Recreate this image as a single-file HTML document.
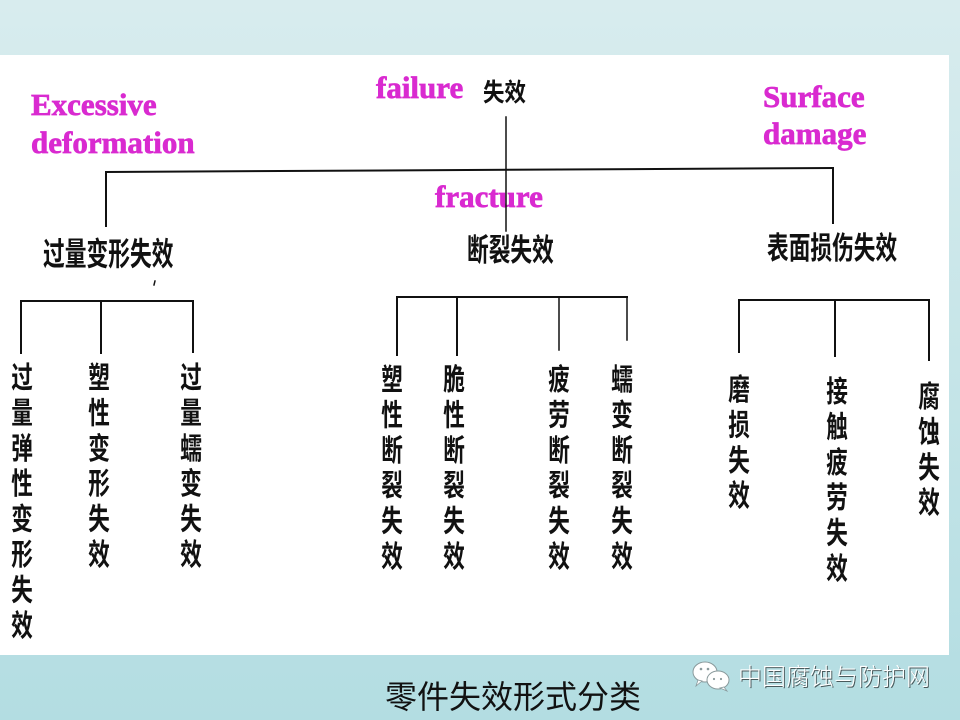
<!DOCTYPE html>
<html><head><meta charset="utf-8">
<style>
html,body{margin:0;padding:0;width:960px;height:720px;overflow:hidden;}
svg{display:block;}
.en{font-family:"Liberation Serif",serif;font-weight:bold;font-size:31px;fill:#d92ad0;stroke:#d92ad0;stroke-width:0.7px;}
.cj{font-family:"Liberation Sans","Noto Sans CJK SC",sans-serif;font-weight:700;fill:#111;}
</style></head>
<body>
<svg width="960" height="720" viewBox="0 0 960 720" xmlns="http://www.w3.org/2000/svg">
<defs>
<linearGradient id="bg" x1="0" y1="0" x2="0" y2="1">
<stop offset="0" stop-color="#d8ecee"/>
<stop offset="0.5" stop-color="#c6e5e8"/>
<stop offset="1" stop-color="#b3dde2"/>
</linearGradient>
</defs>
<rect x="0" y="0" width="960" height="720" fill="url(#bg)"/>
<rect x="0" y="55" width="949" height="600" fill="#ffffff"/>

<!-- English labels -->
<text class="en" x="31" y="115">Excessive</text>
<text class="en" x="31" y="153">deformation</text>
<text class="en" x="376" y="98">failure</text>
<text class="en" x="435" y="207">fracture</text>
<text class="en" x="763" y="107">Surface</text>
<text class="en" x="763" y="144">damage</text>

<!-- lines -->
<g stroke="#111" stroke-width="2" fill="none" stroke-linecap="square">
<line x1="506" y1="117" x2="506" y2="231" stroke-width="1.5"/>
<line x1="106" y1="172" x2="833" y2="168"/>
<line x1="106" y1="172" x2="106" y2="226"/>
<line x1="833" y1="168" x2="833" y2="223"/>

<line x1="21" y1="301" x2="193" y2="301"/>
<line x1="21" y1="301" x2="21" y2="353"/>
<line x1="101" y1="301" x2="101" y2="353"/>
<line x1="193" y1="301" x2="193" y2="352"/>

<line x1="397" y1="297" x2="627" y2="297"/>
<line x1="397" y1="297" x2="397" y2="355"/>
<line x1="457" y1="297" x2="457" y2="355"/>
<line x1="559" y1="297" x2="559" y2="350" stroke-width="1.5"/>
<line x1="627" y1="297" x2="627" y2="340" stroke-width="1.5"/>

<line x1="739" y1="300" x2="929" y2="300"/>
<line x1="739" y1="300" x2="739" y2="352"/>
<line x1="835" y1="300" x2="835" y2="356"/>
<line x1="929" y1="300" x2="929" y2="360"/>
<line x1="155" y1="281" x2="154" y2="285" stroke-width="1.5"/>
</g>

<!-- top label -->
<text class="cj" font-size="25" transform="translate(483,101) scale(0.86,1)">失效</text>

<!-- level 2 labels -->
<text class="cj" font-size="32" transform="translate(43,265) scale(0.68,1)">过量变形失效</text>
<text class="cj" font-size="31" transform="translate(467,261) scale(0.7,1)">断裂失效</text>
<text class="cj" font-size="31" transform="translate(767,259) scale(0.7,1)">表面损伤失效</text>

<!-- vertical columns -->
<g class="cj" font-size="30" text-anchor="middle">
<text transform="translate(22,388) scale(0.72,1)"><tspan x="0" dy="0">过</tspan><tspan x="0" dy="35.4">量</tspan><tspan x="0" dy="35.4">弹</tspan><tspan x="0" dy="35.4">性</tspan><tspan x="0" dy="35.4">变</tspan><tspan x="0" dy="35.4">形</tspan><tspan x="0" dy="35.4">失</tspan><tspan x="0" dy="35.4">效</tspan></text>
<text transform="translate(99,388) scale(0.72,1)"><tspan x="0" dy="0">塑</tspan><tspan x="0" dy="35.4">性</tspan><tspan x="0" dy="35.4">变</tspan><tspan x="0" dy="35.4">形</tspan><tspan x="0" dy="35.4">失</tspan><tspan x="0" dy="35.4">效</tspan></text>
<text transform="translate(191,388) scale(0.72,1)"><tspan x="0" dy="0">过</tspan><tspan x="0" dy="35.4">量</tspan><tspan x="0" dy="35.4">蠕</tspan><tspan x="0" dy="35.4">变</tspan><tspan x="0" dy="35.4">失</tspan><tspan x="0" dy="35.4">效</tspan></text>

<text transform="translate(392,390) scale(0.72,1)"><tspan x="0" dy="0">塑</tspan><tspan x="0" dy="35.4">性</tspan><tspan x="0" dy="35.4">断</tspan><tspan x="0" dy="35.4">裂</tspan><tspan x="0" dy="35.4">失</tspan><tspan x="0" dy="35.4">效</tspan></text>
<text transform="translate(454,390) scale(0.72,1)"><tspan x="0" dy="0">脆</tspan><tspan x="0" dy="35.4">性</tspan><tspan x="0" dy="35.4">断</tspan><tspan x="0" dy="35.4">裂</tspan><tspan x="0" dy="35.4">失</tspan><tspan x="0" dy="35.4">效</tspan></text>
<text transform="translate(559,390) scale(0.72,1)"><tspan x="0" dy="0">疲</tspan><tspan x="0" dy="35.4">劳</tspan><tspan x="0" dy="35.4">断</tspan><tspan x="0" dy="35.4">裂</tspan><tspan x="0" dy="35.4">失</tspan><tspan x="0" dy="35.4">效</tspan></text>
<text transform="translate(622,390) scale(0.72,1)"><tspan x="0" dy="0">蠕</tspan><tspan x="0" dy="35.4">变</tspan><tspan x="0" dy="35.4">断</tspan><tspan x="0" dy="35.4">裂</tspan><tspan x="0" dy="35.4">失</tspan><tspan x="0" dy="35.4">效</tspan></text>

<text transform="translate(739,400) scale(0.72,1)"><tspan x="0" dy="0">磨</tspan><tspan x="0" dy="35.4">损</tspan><tspan x="0" dy="35.4">失</tspan><tspan x="0" dy="35.4">效</tspan></text>
<text transform="translate(837,402) scale(0.72,1)"><tspan x="0" dy="0">接</tspan><tspan x="0" dy="35.4">触</tspan><tspan x="0" dy="35.4">疲</tspan><tspan x="0" dy="35.4">劳</tspan><tspan x="0" dy="35.4">失</tspan><tspan x="0" dy="35.4">效</tspan></text>
<text transform="translate(929,407) scale(0.72,1)"><tspan x="0" dy="0">腐</tspan><tspan x="0" dy="35.4">蚀</tspan><tspan x="0" dy="35.4">失</tspan><tspan x="0" dy="35.4">效</tspan></text>
</g>

<!-- caption -->
<text x="385" y="708" font-family="'Liberation Sans','Noto Sans CJK SC',sans-serif" font-size="32" font-weight="400" fill="#111">零件失效形式分类</text>

<!-- watermark -->
<g>
<ellipse cx="705" cy="672" rx="12" ry="10" fill="#ffffff" stroke="#8a9a9c" stroke-width="1"/>
<path d="M698 680 L696 686 L702 681 Z" fill="#ffffff" stroke="#8a9a9c" stroke-width="0.8"/>
<ellipse cx="718" cy="680" rx="11" ry="9" fill="#ffffff" stroke="#8a9a9c" stroke-width="1"/>
<path d="M724 687 L727 691 L720 688 Z" fill="#ffffff" stroke="#8a9a9c" stroke-width="0.8"/>
<circle cx="701" cy="669" r="1.3" fill="#8a9a9c"/>
<circle cx="708" cy="669" r="1.3" fill="#8a9a9c"/>
<circle cx="714" cy="679" r="1.1" fill="#8a9a9c"/>
<circle cx="721" cy="679" r="1.1" fill="#8a9a9c"/>
</g>
<text x="739" y="686" font-family="'Liberation Sans','Noto Sans CJK SC',sans-serif" font-size="24" font-weight="300" fill="#4a5a5c">中国腐蚀与防护网</text>
<text x="738" y="685" font-family="'Liberation Sans','Noto Sans CJK SC',sans-serif" font-size="24" font-weight="300" fill="#ffffff">中国腐蚀与防护网</text>
</svg>
</body></html>
